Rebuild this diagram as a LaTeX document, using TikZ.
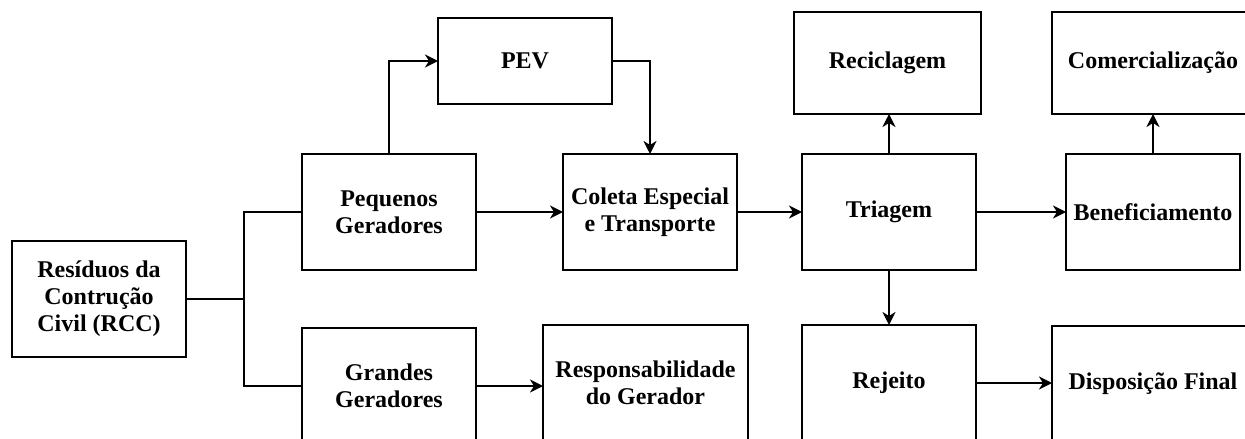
\documentclass[tikz,border=0pt]{standalone}
\usepackage{fontspec}
\setmainfont{Liberation Serif}
\usetikzlibrary{arrows.meta}
\begin{document}
\begin{tikzpicture}[
    x=1pt, y=-1pt,
    every node/.style={font=\fontsize{24}{27}\selectfont\bfseries, align=center},
    blk/.style={
      draw, line width=2.3pt,
      inner sep=2pt, outer sep=0pt,
      minimum width=174pt, minimum height=116pt,
    },
    link/.style={line width=2.3pt},
    flow/.style={link, -{Stealth[length=13pt,width=13pt,inset=4pt]}},
  ]
\clip (0,0) rectangle (1245,439);
% --- column x-positions
\def\cA{99}
\def\cB{389}
\def\cC{650}
\def\cD{889}
\def\cE{1153}
% --- row y-positions
\def\rA{63}
\def\rB{212}
\def\rC{299}
\def\rD{384}

% Source
\node[blk] (rcc) at (\cA, \rC) {Resíduos da\\Contrução\\Civil (RCC)};

% Column 2 — generators
\node[blk] (peq) at (\cB, \rB) {Pequenos\\Geradores};
\node[blk] (gra) at (\cB, 386) {Grandes\\Geradores};
\node[blk, minimum height=86pt] (pev) at (525, 61) {PEV};

% Column 3 — collection
\node[blk] (col) at (\cC, \rB) {Coleta Especial\\e Transporte};
\node[blk, minimum width=205pt] (resp) at (645.5, 383) {Responsabilidade\\do Gerador};

% Column 4 — sorting
\node[blk, minimum width=187pt, minimum height=102pt] (rec) at (887.5, \rA) {Reciclagem};
\node[blk] (tri) at (\cD, \rB) {Triagem};
\node[blk] (rej) at (\cD, 383) {Rejeito};

% Column 5 — processing
\node[blk, minimum width=202pt, minimum height=102pt] (com) at (\cE, \rA) {Comercialização};
\node[blk] (ben) at (\cE, \rB) {Beneficiamento};
\node[blk, minimum width=202pt] (dis) at (\cE, \rD) {Disposição Final};

% Connectors
\coordinate (jn) at (244, \rC);
\draw[link] (rcc.east) -- (jn);
\draw[link] (peq.west) -| (jn) |- (gra.west);
\draw[flow] (peq.north) |- (pev.west);
\draw[flow] (pev.east) -| (col.north);
\draw[flow] (peq.east) -- (col.west);
\draw[flow] (gra.east) -- (gra.east -| resp.west);
\draw[flow] (col.east) -- (tri.west);
\draw[flow] (tri.north) -- (tri.north |- rec.south);
\draw[flow] (tri.east) -- (ben.west);
\draw[flow] (ben.north) -- (com.south);
\draw[flow] (tri.south) -- (rej.north);
\draw[flow] (rej.east) -- (rej.east -| dis.west);
\end{tikzpicture}
\end{document}
